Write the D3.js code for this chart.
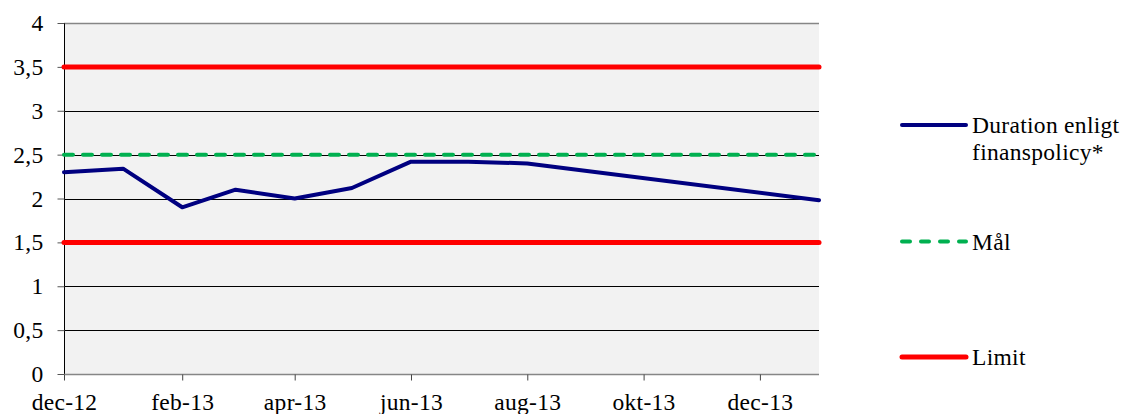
<!DOCTYPE html>
<html>
<head>
<meta charset="utf-8">
<script src="https://cdn.jsdelivr.net/npm/d3@7"></script>
</head>
<body style="margin: 0; background: #fff;">
<svg width="1127" height="414" style="font-family: 'Liberation Serif', Tinos, serif;"></svg>
<script>
        // Duration series (monthly, the line joins the gap after aug-13)
        const dates = ['2012-12-01', '2013-01-01', '2013-02-01', '2013-03-01', '2013-04-01', '2013-05-01',
                       '2013-06-01', '2013-07-01', '2013-08-01', '2014-01-01']
        const duration = [2.30, 2.34, 1.90, 2.10, 2.00, 2.12, 2.42, 2.42, 2.40, 1.98]

        const malValue = 2.5
        const limitValues = [1.5, 3.5]

        const yTicks = [0, 0.5, 1, 1.5, 2, 2.5, 3, 3.5, 4]
        const xTickDates = ['2012-12-01', '2013-02-01', '2013-04-01', '2013-06-01', '2013-08-01', '2013-10-01', '2013-12-01']
        const xTickLabels = ['dec-12', 'feb-13', 'apr-13', 'jun-13', 'aug-13', 'okt-13', 'dec-13']
        const domainDates = ['2012-12-01', '2014-01-01']

        const legendLabels = [['Duration enligt', 'finanspolicy*'], ['Mål'], ['Limit']]
        const legendColors = ['#000080', '#00b050', '#ff0000']

        const fontFam = "'Liberation Serif', Tinos, serif"
        const fontPx = '23.5px'

        const parse = d3.timeParse('%Y-%m-%d')
        const margin = {top: 23, left: 64, right: 308, bottom: 40}
        const width = 1127 - margin.left - margin.right
        const height = 414 - margin.top - margin.bottom

        const svg = d3.select('svg')

        const x = d3.scaleTime(domainDates.map(parse), [margin.left, margin.left + width])
        const y = d3.scaleLinear([0, 4], [margin.top + height, margin.top])

        function serif(sel) {
            sel.attr('font-family', 'Liberation Serif')
                .style('font-family', fontFam)
                .style('font-size', fontPx)
                .attr('letter-spacing', '0.3px')
                .attr('fill', '#000')
        }

        // plot background
        svg.append('rect')
            .attr('x', margin.left).attr('y', margin.top)
            .attr('width', width).attr('height', height)
            .attr('fill', '#f2f2f2')

        // horizontal gridlines
        svg.append('g').selectAll('line').data(yTicks.filter(d => d > 0)).enter()
            .append('line')
                .attr('x1', margin.left).attr('x2', margin.left + width)
                .attr('y1', d => Math.round(y(d)) + 0.5).attr('y2', d => Math.round(y(d)) + 0.5)
                .attr('stroke', d => d == 4 ? '#868686' : '#000')
                .attr('stroke-width', d => d == 4 ? 1.5 : 1)

        // y axis
        const yAxis = d3.axisLeft(y)
            .tickValues(yTicks)
            .tickSize(7)
            .tickPadding(14)
            .tickFormat(d => String(d).replace('.', ','))

        svg.append('g')
            .attr('transform', `translate(${margin.left + 0.5}, 0)`)
            .call(yAxis)
            .attr('font-family', 'Liberation Serif')
            .call(g => g.select('.domain').attr('stroke', '#000').attr('d', `M0,${margin.top}V${margin.top + height}`))
            .call(g => g.selectAll('.tick line').attr('stroke', '#555'))
            .call(g => g.selectAll('.tick text').call(serif))

        // x axis
        const xAxis = d3.axisBottom(x)
            .tickValues(xTickDates.map(parse))
            .tickSize(6)
            .tickPadding(8)
            .tickFormat((d, i) => xTickLabels[i])

        svg.append('g')
            .attr('transform', `translate(0, ${margin.top + height + 0.5})`)
            .call(xAxis)
            .attr('font-family', 'Liberation Serif')
            .call(g => g.select('.domain').attr('stroke', '#868686').attr('stroke-width', 1.5)
                .attr('d', `M${margin.left},0H${margin.left + width}`))
            .call(g => g.selectAll('.tick line').attr('stroke', '#444'))
            .call(g => g.selectAll('.tick text').call(serif).attr('dy', '0.9em'))

        const line = d3.line()
            .x(d => x(d.date))
            .y(d => y(d.value))

        // limit lines
        limitValues.forEach(v => {
            svg.append('path')
                .datum(domainDates.map(d => ({date: parse(d), value: v})))
                .attr('d', line)
                .attr('fill', 'none')
                .attr('stroke', legendColors[2])
                .attr('stroke-width', 5)
                .attr('stroke-linecap', 'round')
        })

        // target line
        svg.append('path')
            .datum(domainDates.map(d => ({date: parse(d), value: malValue})))
            .attr('d', line)
            .attr('fill', 'none')
            .attr('stroke', legendColors[1])
            .attr('stroke-width', 4)
            .attr('stroke-dasharray', '9,10')
            .attr('stroke-linecap', 'round')

        // duration series
        svg.append('path')
            .datum(dates.map((d, i) => ({date: parse(d), value: duration[i]})))
            .attr('d', line)
            .attr('fill', 'none')
            .attr('stroke', legendColors[0])
            .attr('stroke-width', 4)
            .attr('stroke-linejoin', 'round')
            .attr('stroke-linecap', 'round')

        // legend
        const legendY = [125, 241.5, 357]
        const legend = svg.append('g').attr('font-family', 'Liberation Serif')
        legendLabels.forEach((label, i) => {
            legend.append('line')
                .attr('x1', 902).attr('x2', 966)
                .attr('y1', legendY[i]).attr('y2', legendY[i])
                .attr('stroke', legendColors[i])
                .attr('stroke-width', i == 2 ? 5 : 4)
                .attr('stroke-linecap', 'round')
                .attr('stroke-dasharray', i == 1 ? '8,11' : null)
            const t = legend.append('text')
                .attr('x', 972).attr('y', legendY[i] + 8)
                .call(serif)
            label.forEach((l, j) => {
                t.append('tspan').attr('x', 972).attr('dy', j == 0 ? 0 : 27).text(l)
            })
        })
</script>
</body>
</html>
